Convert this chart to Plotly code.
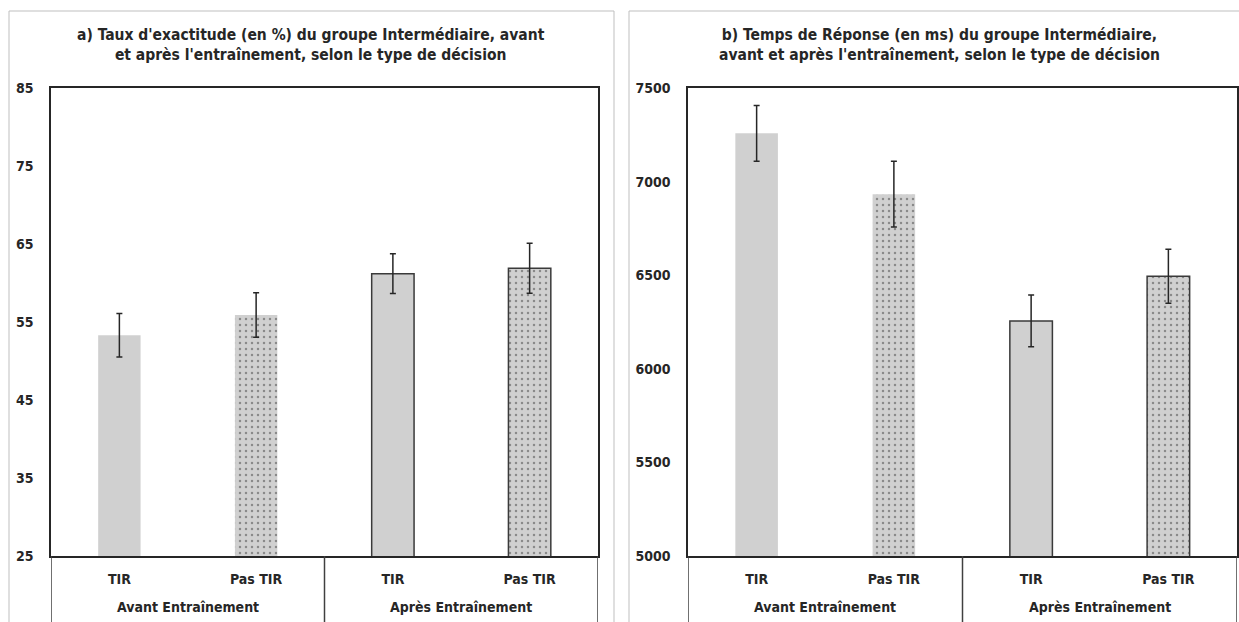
import plotly.graph_objects as go

# ---- data ----
group_names = ["Avant Entraînement", "Après Entraînement"]
groups = ["Avant Entraînement", "Avant Entraînement", "Après Entraînement", "Après Entraînement"]
types = ["TIR", "Pas TIR", "TIR", "Pas TIR"]
accuracy = [53.3, 55.9, 61.2, 61.9]
accuracy_err = [2.8, 2.85, 2.55, 3.2]
rt = [7258, 6933, 6256, 6494]
rt_err = [149, 176, 138, 144]
title_a = "a) Taux d'exactitude (en %) du groupe Intermédiaire, avant<br>et après l'entraînement, selon le type de décision"
title_b = "b) Temps de Réponse (en ms) du groupe Intermédiaire,<br>avant et après l'entraînement, selon le type de décision"

W, H = 1239, 622
FONT = "Liberation Sans Narrow, DejaVu Sans Condensed, Arial Narrow, sans-serif"
DARK = "#262626"
FILL = "#d0d0d0"

pos = list(range(len(types)))
shapes_pat = ["" if t == "TIR" else "." for t in types]
line_w = [0 if g == group_names[0] else 1.5 for g in groups]


def px_x(p):
    return p / W


def px_y(p):
    return 1 - p / H


def bar(y, err, xa, ya):
    return go.Bar(
        x=pos, y=y, xaxis=xa, yaxis=ya, width=0.31,
        marker=dict(color=FILL,
                    line=dict(color="#3a3a3a", width=line_w),
                    pattern=dict(shape=shapes_pat, fgcolor="#444444", bgcolor=FILL,
                                 size=6, solidity=0.14, fillmode="overlay")),
        error_y=dict(type="data", array=err, visible=True, color=DARK,
                     thickness=1.5, width=3),
        showlegend=False, hoverinfo="skip",
    )


fig = go.Figure()
fig.add_trace(bar(accuracy, accuracy_err, "x", "y"))
fig.add_trace(bar(rt, rt_err, "x2", "y2"))

ydom = [px_y(556), px_y(88)]
xcommon = dict(showline=True, mirror=True, linecolor=DARK, linewidth=1.5, automargin=False,
               showgrid=False, zeroline=False, ticks="", range=[-0.5, len(types) - 0.5],
               tickvals=pos, ticktext=types, ticklabelstandoff=9,
               tickfont=dict(family=FONT, size=14, color=DARK, weight="bold"), fixedrange=True)
ycommon = dict(showline=True, mirror=True, linecolor=DARK, linewidth=1.5, showgrid=False,
               zeroline=False, ticks="", ticklabelstandoff=13, automargin=False,
               tickfont=dict(family=FONT, size=14, color=DARK, weight="bold"), fixedrange=True)

shapes = [
    dict(type="rect", xref="paper", yref="paper", x0=px_x(9), x1=px_x(614), y0=-0.05, y1=px_y(11),
         line=dict(color="#bfbfbf", width=1)),
    dict(type="rect", xref="paper", yref="paper", x0=px_x(629), x1=1.02, y0=-0.05, y1=px_y(11),
         line=dict(color="#bfbfbf", width=1)),
]
annotations = [
    dict(text=title_a, xref="paper", yref="paper", x=px_x(311), y=px_y(45), showarrow=False,
         xanchor="center", yanchor="middle", align="center",
         font=dict(family=FONT, size=15.5, color=DARK, weight="bold")),
    dict(text=title_b, xref="paper", yref="paper", x=px_x(939), y=px_y(45), showarrow=False,
         xanchor="center", yanchor="middle", align="center",
         font=dict(family=FONT, size=15.5, color=DARK, weight="bold")),
]
for xa in ["x", "x2"]:
    # group dividers and group labels under the category axis
    for xv in [-0.5, 1.5, 3.5]:
        shapes.append(dict(type="line", xref=xa, yref="paper", x0=xv, x1=xv, y0=px_y(556), y1=-0.02,
                           line=dict(color="#404040", width=1.5)))
    for gi, gname in enumerate(group_names):
        idx = [i for i, g in enumerate(groups) if g == gname]
        annotations.append(dict(text=gname, xref=xa, yref="paper", x=sum(idx) / len(idx), y=px_y(607),
                                showarrow=False, xanchor="center", yanchor="middle",
                                font=dict(family=FONT, size=14, color=DARK, weight="bold")))

fig.update_layout(
    width=W, height=H, margin=dict(l=0, r=0, t=0, b=0, autoexpand=False),
    paper_bgcolor="white", plot_bgcolor="white", hovermode=False,
    xaxis=dict(domain=[px_x(51), px_x(598)], anchor="y", **xcommon),
    yaxis=dict(domain=ydom, anchor="x", range=[25, 85], dtick=10, tick0=25, **ycommon),
    xaxis2=dict(domain=[px_x(688), px_x(1237)], anchor="y2", **xcommon),
    yaxis2=dict(domain=ydom, anchor="x2", range=[5000, 7500], dtick=500, tick0=5000, **ycommon),
    shapes=shapes,
    annotations=annotations,
)

fig.write_html("out.html", config={"displayModeBar": False},
               post_script="document.body.style.margin='0px';")
